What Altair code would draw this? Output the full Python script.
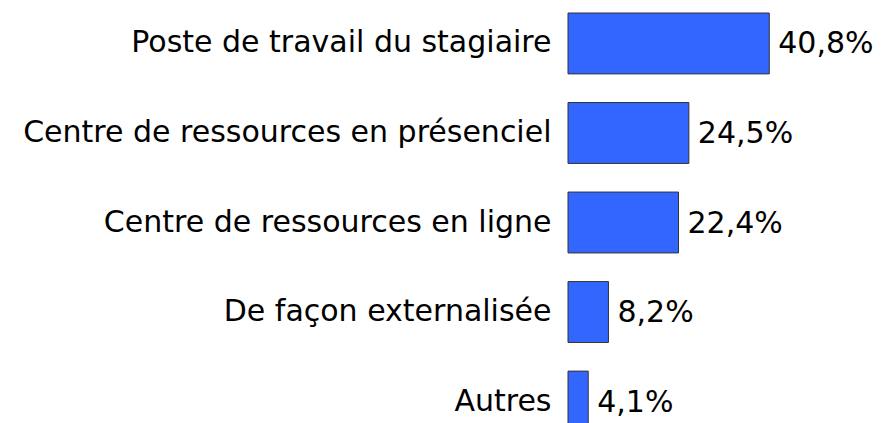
import altair as alt
import pandas as pd

categories = [
    "Poste de travail du stagiaire",
    "Centre de ressources en présenciel",
    "Centre de ressources en ligne",
    "De façon externalisée",
    "Autres",
]
values = [40.8, 24.5, 22.4, 8.2, 4.1]
labels = ["40,8%", "24,5%", "22,4%", "8,2%", "4,1%"]

df = pd.DataFrame({"cat": categories, "val": values, "lab": labels})

FONT = "DejaVu Sans"
FS = 30

y = alt.Y(
    "cat:N",
    sort=categories,
    scale=alt.Scale(paddingInner=0.32, paddingOuter=0),
    axis=alt.Axis(
        title=None, ticks=False, domain=False, labelPadding=17,
        labelFontSize=FS, labelFont=FONT, labelColor="#000000", labelLimit=0,
    ),
)
x = alt.X("val:Q", scale=alt.Scale(domain=[0, 45]), axis=None)

bars = alt.Chart(df).mark_bar(
    color="#3366FF", stroke="#333333", strokeWidth=1
).encode(x=x, y=y)
text = alt.Chart(df).mark_text(
    align="left", baseline="middle", dx=9, dy=1, fontSize=FS, font=FONT, color="#000000"
).encode(x=x, y=y, text="lab:N")

chart = (bars + text).properties(
    width=222, height=419,
    autosize=alt.AutoSizeParams(type="none"),
    padding={"left": 560, "top": 5, "right": 84, "bottom": 0},
).configure_view(stroke=None)

chart.save("out.html", embed_options={"renderer": "svg", "actions": False})
